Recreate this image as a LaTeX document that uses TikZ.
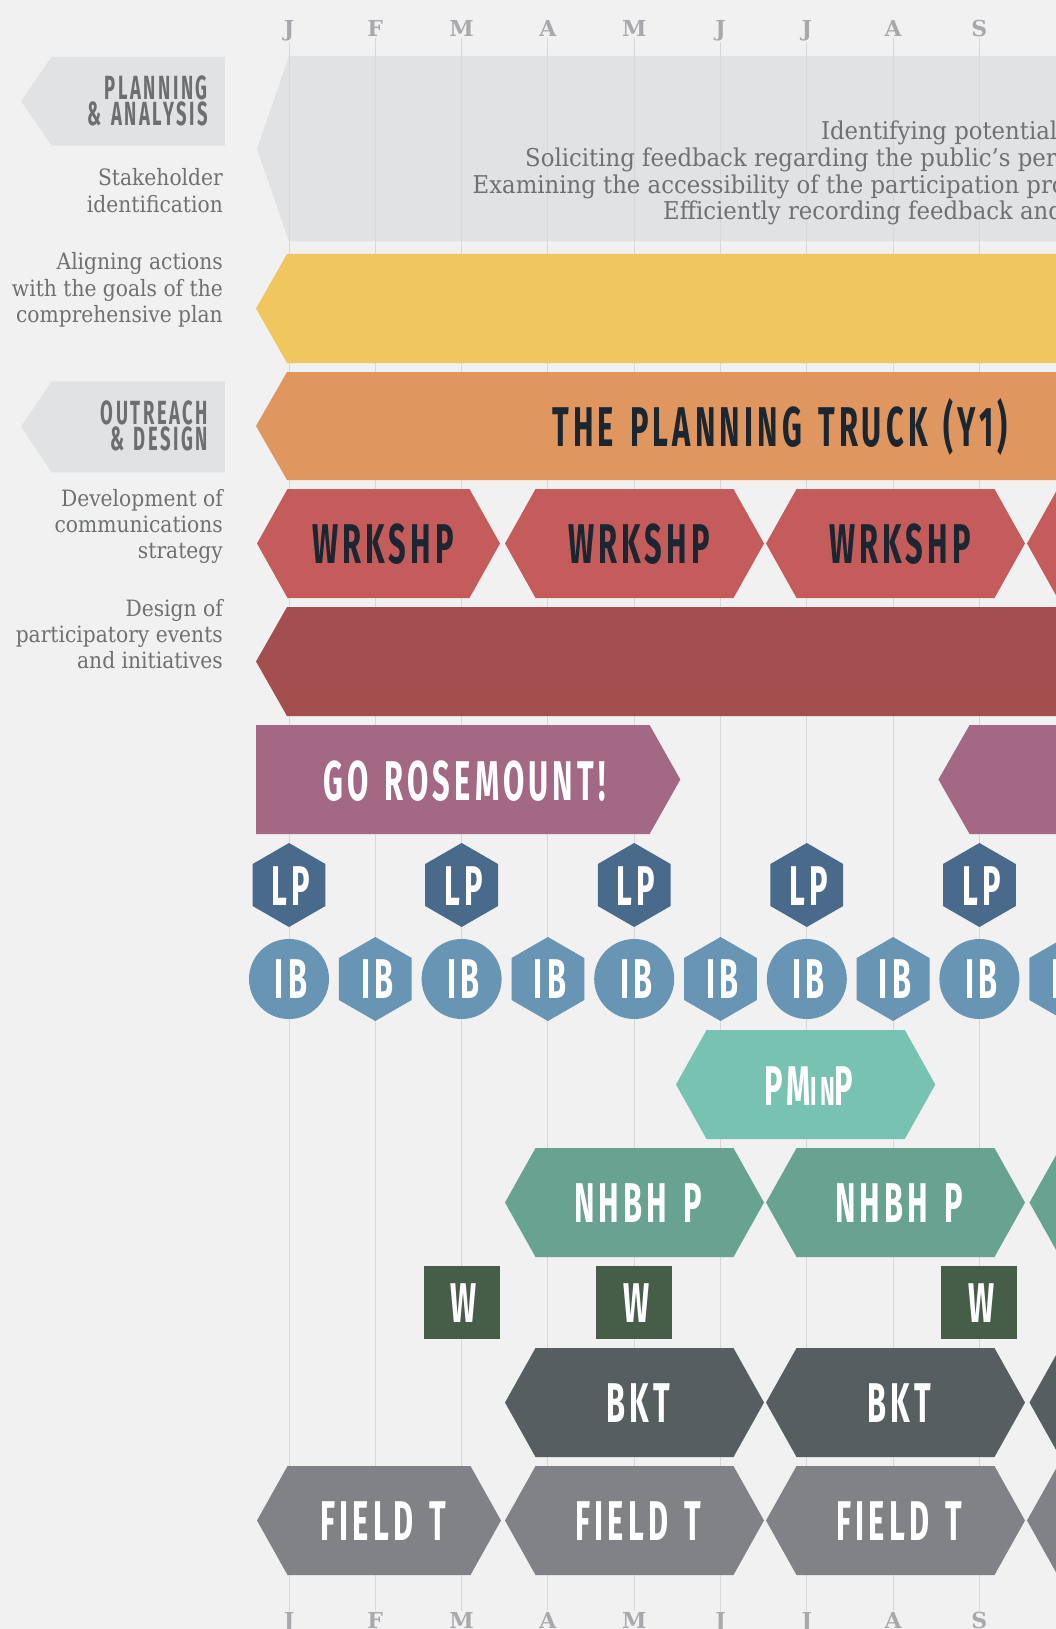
\documentclass[tikz,border=0pt]{standalone}
\usepackage{fontspec}
\newfontfamily\condfont[FakeStretch=0.55, LetterSpace=7.5, WordSpace=1.4]{Fira Sans}
\newfontfamily\slabfont[FakeStretch=0.9]{DejaVu Serif}
\newfontfamily\bandfont[FakeStretch=0.93]{DejaVu Serif}
\newfontfamily\monthfont{DejaVu Serif}

\definecolor{bgc}{HTML}{F1F1F1}
\definecolor{bandc}{HTML}{E1E2E3}
\definecolor{gridc}{HTML}{D6D7D8}
\definecolor{yellowc}{HTML}{F0C75E}
\definecolor{orangec}{HTML}{E0975F}
\definecolor{redc}{HTML}{C55C5C}
\definecolor{darkredc}{HTML}{A34F4F}
\definecolor{purplec}{HTML}{A36883}
\definecolor{lpc}{HTML}{4A6A8B}
\definecolor{ibc}{HTML}{6795B3}
\definecolor{pminpc}{HTML}{77C2B0}
\definecolor{nhbhc}{HTML}{68A391}
\definecolor{wc}{HTML}{465E48}
\definecolor{bktc}{HTML}{565E5F}
\definecolor{fieldc}{HTML}{818285}
\definecolor{monthc}{HTML}{A7A9AC}
\definecolor{bodyc}{HTML}{6E7072}
\definecolor{tagtextc}{HTML}{6D6E71}
\definecolor{inkc}{HTML}{1B2630}

% flat-topped bar with pointed ends: fill, left tip x, right tip x, centre y
\newcommand{\hexbar}[4]{%
  \fill[#1] (#2,#4) -- (#2+30.5,#4-54.5) -- (#3-30.5,#4-54.5) -- (#3,#4)
    -- (#3-30.5,#4+54.5) -- (#2+30.5,#4+54.5) -- cycle;}
% pointy-topped regular hexagon: fill, centre x, centre y
\newcommand{\hexpt}[3]{%
  \fill[#1] (#2,#3-42) -- (#2+36.4,#3-21) -- (#2+36.4,#3+21) -- (#2,#3+42)
    -- (#2-36.4,#3+21) -- (#2-36.4,#3-21) -- cycle;}

\begin{document}
\begin{tikzpicture}[x=1pt,y=-1pt,
  monthlabel/.style={anchor=base, inner sep=1pt, text=monthc,
    font=\monthfont\bfseries\fontsize{22}{22}\selectfont},
  gridline/.style={draw=gridc, line width=1pt},
  bodytext/.style={inner sep=0pt, text=bodyc,
    font=\slabfont\fontsize{22.5}{27}\selectfont},
  bandtext/.style={bodytext, anchor=base west,
    font=\bandfont\fontsize{24.5}{27}\selectfont},
  tagtext/.style={anchor=base east, inner sep=0pt, text=tagtextc,
    text height=23pt, text depth=0pt,
    font=\condfont\bfseries\fontsize{33.5}{33.5}\selectfont},
  hexlabel/.style={anchor=base, inner sep=0pt,
    font=\condfont\bfseries\fontsize{56}{56}\selectfont},
  darklabel/.style={hexlabel, text=inkc},
  lightlabel/.style={hexlabel, text=white}]

\useasboundingbox (0,0) rectangle (1056,1629);
\clip (0,0) rectangle (1056,1629);
\fill[bgc] (0,0) rectangle (1056,1629);

% planning & analysis band
\fill[bandc] (289,56) -- (1070,56) -- (1070,241.5) -- (289,241.5) -- (257,149) -- cycle;

% month labels and grid
\foreach \m [count=\i from 0] in {J,F,M,A,M,J,J,A,S}{
  \node[monthlabel] (top\i) at (289+86.3*\i,36.5) {\m};
  \node[monthlabel] (bot\i) at (289+86.3*\i,1628.5) {\m};
  \draw[gridline] (top\i.south) -- (bot\i.north);
}

% band text
\node[bandtext] (pa1) at (820.8,140) {Identifying potential};
\node[bandtext] (pa2) at (525,166.7) {Soliciting feedback regarding the public’s perc};
\node[bandtext] (pa3) at (472.5,193.2) {Examining the accessibility of the participation pro};
\node[bandtext] (pa4) at (663,220) {Efficiently recording feedback and};

% section tags
\fill[bandc] (224.8,56.8) -- (51.7,56.8) -- (21,101.2) -- (51.7,145.7) -- (224.8,145.7) -- cycle;
\node[tagtext] (tagpa1) at (208,100) {PLANNING};
\node[tagtext] (tagpa2) at (208,125.7) {\& ANALYSIS};
\fill[bandc] (224.8,381.3) -- (51.7,381.3) -- (21,426.8) -- (51.7,472.3) -- (224.8,472.3) -- cycle;
\node[tagtext] (tagod1) at (208,424.3) {OUTREACH};
\node[tagtext] (tagod2) at (208,450.7) {\& DESIGN};

% row descriptions
\node[bodytext, anchor=base east] (d1a) at (223,186) {Stakeholder};
\node[bodytext, anchor=base east] (d1b) at (223,212.7) {identification};
\node[bodytext, anchor=base east] (d2a) at (223,269.3) {Aligning actions};
\node[bodytext, anchor=base east] (d2b) at (223,296.2) {with the goals of the};
\node[bodytext, anchor=base east] (d2c) at (223,322.7) {comprehensive plan};
\node[bodytext, anchor=base east] (d3a) at (223,506) {Development of};
\node[bodytext, anchor=base east] (d3b) at (223,532.3) {communications};
\node[bodytext, anchor=base east] (d3c) at (223,558.7) {strategy};
\node[bodytext, anchor=base east] (d4a) at (223,616) {Design of};
\node[bodytext, anchor=base east] (d4b) at (223,642.5) {participatory events};
\node[bodytext, anchor=base east] (d4c) at (223,668.7) {and initiatives};

% long bands
\fill[yellowc] (256,308.5) -- (287,254) -- (1070,254) -- (1070,363) -- (287,363) -- cycle;
\fill[orangec] (256,426) -- (287,372) -- (1070,372) -- (1070,480) -- (287,480) -- cycle;
\node[darklabel] (truck) at (780,446) {THE PLANNING TRUCK (Y1)};
\fill[darkredc] (256,661.5) -- (287,607) -- (1070,607) -- (1070,716) -- (287,716) -- cycle;

% workshops
\hexbar{redc}{257}{500}{543.5}
\hexbar{redc}{505}{764}{543.5}
\hexbar{redc}{766}{1025}{543.5}
\hexbar{redc}{1027}{1200}{543.5}
\node[darklabel] (wk1) at (383,563) {WRKSHP};
\node[darklabel] (wk2) at (639,563) {WRKSHP};
\node[darklabel] (wk3) at (900,563) {WRKSHP};

% go rosemount
\fill[purplec] (256,725) -- (649.6,725) -- (680.3,779.5) -- (649.6,834) -- (256,834) -- cycle;
\node[lightlabel] (go) at (464.5,800) {GO ROSEMOUNT!};
\fill[purplec] (938.4,779.5) -- (969.6,725) -- (1070,725) -- (1070,834) -- (969.6,834) -- cycle;

% LP and IB markers
\foreach \i in {0,2,4,6,8}{
  \hexpt{lpc}{289+86.3*\i}{885}
  \node[lightlabel] (lp\i) at (291+86.3*\i,905) {LP};
  \fill[ibc] (289+86.3*\i,979) circle[radius=40];
  \node[lightlabel] (ib\i) at (291+86.3*\i,998.7) {IB};
}
\foreach \i in {1,3,5,7,9}{
  \hexpt{ibc}{289+86.3*\i}{979}
  \node[lightlabel] (ib\i) at (291+86.3*\i,998.7) {IB};
}

% PMinP
\hexbar{pminpc}{676}{935.3}{1084.5}
\node[lightlabel] (pminp) at (809,1105) {PM{\fontsize{40.5}{40.5}\selectfont IN}P};

% neighbourhood
\hexbar{nhbhc}{505}{764}{1202.5}
\hexbar{nhbhc}{766}{1025}{1202.5}
\hexbar{nhbhc}{1029.5}{1200}{1202.5}
\node[lightlabel] (nh1) at (638,1222) {NHBH P};
\node[lightlabel] (nh2) at (899,1222) {NHBH P};

% W squares
\foreach \i in {2,4,8}{
  \fill[wc] (289+86.3*\i-38,1266) rectangle (289+86.3*\i+38,1339);
  \node[lightlabel] (w\i) at (291+86.3*\i,1322.7) {W};
}

% BKT
\hexbar{bktc}{505}{764}{1402.5}
\hexbar{bktc}{766}{1025}{1402.5}
\hexbar{bktc}{1029.5}{1200}{1402.5}
\node[lightlabel] (bk1) at (638,1422.7) {BKT};
\node[lightlabel] (bk2) at (899,1422.7) {BKT};

% field trips
\hexbar{fieldc}{257}{501}{1520.5}
\hexbar{fieldc}{505}{764}{1520.5}
\hexbar{fieldc}{766}{1025}{1520.5}
\hexbar{fieldc}{1027}{1200}{1520.5}
\node[lightlabel] (ft1) at (383,1540.7) {FIELD T};
\node[lightlabel] (ft2) at (638,1540.7) {FIELD T};
\node[lightlabel] (ft3) at (899,1540.7) {FIELD T};

\end{tikzpicture}
\end{document}
